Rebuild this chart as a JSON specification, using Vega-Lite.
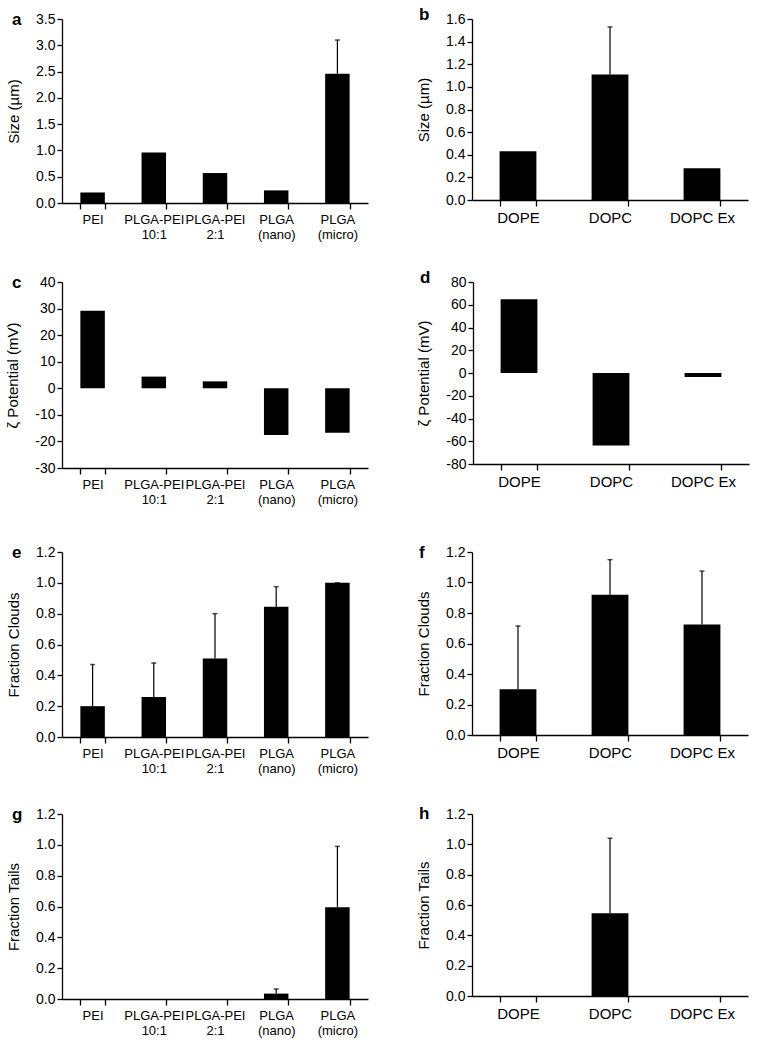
{
  "$schema": "https://vega.github.io/schema/vega-lite/v6.json",
  "background": "white",
  "padding": {"left": 5, "top": 6, "right": 5, "bottom": 2},
  "datasets": {
    "a": [
      {"group": "PEI", "value": 0.20, "hi": null},
      {"group": "PLGA-PEI 10:1", "value": 0.96, "hi": null},
      {"group": "PLGA-PEI 2:1", "value": 0.57, "hi": null},
      {"group": "PLGA (nano)", "value": 0.24, "hi": null},
      {"group": "PLGA (micro)", "value": 2.46, "hi": 3.10}
    ],
    "b": [
      {"group": "DOPE", "value": 0.43, "hi": null},
      {"group": "DOPC", "value": 1.11, "hi": 1.53},
      {"group": "DOPC Ex", "value": 0.28, "hi": null}
    ],
    "c": [
      {"group": "PEI", "value": 29.2, "hi": null},
      {"group": "PLGA-PEI 10:1", "value": 4.4, "hi": null},
      {"group": "PLGA-PEI 2:1", "value": 2.6, "hi": null},
      {"group": "PLGA (nano)", "value": -17.6, "hi": null},
      {"group": "PLGA (micro)", "value": -16.7, "hi": null}
    ],
    "d": [
      {"group": "DOPE", "value": 64.8, "hi": null},
      {"group": "DOPC", "value": -63.8, "hi": null},
      {"group": "DOPC Ex", "value": -3.5, "hi": null}
    ],
    "e": [
      {"group": "PEI", "value": 0.20, "hi": 0.47},
      {"group": "PLGA-PEI 10:1", "value": 0.26, "hi": 0.48},
      {"group": "PLGA-PEI 2:1", "value": 0.51, "hi": 0.80},
      {"group": "PLGA (nano)", "value": 0.845, "hi": 0.975},
      {"group": "PLGA (micro)", "value": 1.00, "hi": 1.00}
    ],
    "f": [
      {"group": "DOPE", "value": 0.30, "hi": 0.715},
      {"group": "DOPC", "value": 0.92, "hi": 1.15},
      {"group": "DOPC Ex", "value": 0.725, "hi": 1.075}
    ],
    "g": [
      {"group": "PEI", "value": 0, "hi": null},
      {"group": "PLGA-PEI 10:1", "value": 0, "hi": null},
      {"group": "PLGA-PEI 2:1", "value": 0, "hi": null},
      {"group": "PLGA (nano)", "value": 0.035, "hi": 0.065},
      {"group": "PLGA (micro)", "value": 0.595, "hi": 0.99}
    ],
    "h": [
      {"group": "DOPE", "value": 0, "hi": null},
      {"group": "DOPC", "value": 0.545, "hi": 1.04},
      {"group": "DOPC Ex", "value": 0, "hi": null}
    ]
  },
  "spacing": 38,
  "vconcat": [
    {
      "spacing": 28,
      "vconcat": [
        {
          "spacing": 48,
          "hconcat": [
            {"vconcat": [{
              "width": 306, "height": 184,
              "title": {"text": "a", "dx": -50, "dy": 21},
              "data": {"name": "a"},
              "encoding": {
                "x": {"field": "group", "type": "nominal", "sort": ["PEI", "PLGA-PEI 10:1", "PLGA-PEI 2:1", "PLGA (nano)", "PLGA (micro)"], "scale": {"paddingInner": 0.6, "paddingOuter": 0.3}, "axis": {"title": null, "labelExpr": "split(datum.label, ' ')"}}
              },
              "layer": [
                {"mark": {"type": "bar", "color": "black"}, "encoding": {"y": {"field": "value", "type": "quantitative", "title": "Size (µm)", "scale": {"domain": [0, 3.5], "nice": false}, "axis": {"values": [0, 0.5, 1, 1.5, 2, 2.5, 3, 3.5], "tickCount": 20, "labelOverlap": false, "format": ".1f"}}}},
                {"transform": [{"filter": "datum.hi != null"}], "mark": {"type": "rule", "color": "black", "strokeWidth": 1.2}, "encoding": {"y": {"field": "value", "type": "quantitative", "title": "Size (µm)"}, "y2": {"field": "hi"}}},
                {"transform": [{"filter": "datum.hi != null"}], "mark": {"type": "tick", "color": "black", "thickness": 1.5, "size": 5}, "encoding": {"y": {"field": "hi", "type": "quantitative", "title": "Size (µm)"}}}
              ]
            }]},
            {"vconcat": [{
              "width": 276, "height": 181,
              "title": {"text": "b", "dx": -53, "dy": 16},
              "data": {"name": "b"},
              "encoding": {
                "x": {"field": "group", "type": "nominal", "sort": ["DOPE", "DOPC", "DOPC Ex"], "scale": {"paddingInner": 0.6, "paddingOuter": 0.3}, "axis": {"title": null, "labelFontSize": 15}}
              },
              "layer": [
                {"mark": {"type": "bar", "color": "black"}, "encoding": {"y": {"field": "value", "type": "quantitative", "title": "Size (µm)", "scale": {"domain": [0, 1.6], "nice": false}, "axis": {"values": [0, 0.2, 0.4, 0.6, 0.8, 1, 1.2, 1.4, 1.6], "tickCount": 20, "labelOverlap": false, "format": ".1f"}}}},
                {"transform": [{"filter": "datum.hi != null"}], "mark": {"type": "rule", "color": "black", "strokeWidth": 1.2}, "encoding": {"y": {"field": "value", "type": "quantitative", "title": "Size (µm)"}, "y2": {"field": "hi"}}},
                {"transform": [{"filter": "datum.hi != null"}], "mark": {"type": "tick", "color": "black", "thickness": 1.5, "size": 5}, "encoding": {"y": {"field": "hi", "type": "quantitative", "title": "Size (µm)"}}}
              ]
            }]}
          ]
        },
        {
          "spacing": 48,
          "hconcat": [
            {"vconcat": [{
              "width": 306, "height": 186,
              "title": {"text": "c", "dx": -50, "dy": 21},
              "data": {"name": "c"},
              "encoding": {
                "x": {"field": "group", "type": "nominal", "sort": ["PEI", "PLGA-PEI 10:1", "PLGA-PEI 2:1", "PLGA (nano)", "PLGA (micro)"], "scale": {"paddingInner": 0.6, "paddingOuter": 0.3}, "axis": {"title": null, "labelExpr": "split(datum.label, ' ')"}}
              },
              "layer": [
                {"mark": {"type": "bar", "color": "black"}, "encoding": {"y": {"field": "value", "type": "quantitative", "title": "ζ Potential (mV)", "scale": {"domain": [-30, 40], "nice": false}, "axis": {"values": [-30, -20, -10, 0, 10, 20, 30, 40], "tickCount": 20, "labelOverlap": false, "labelExpr": "replace(datum.label, '−', '-')"}}}}
              ]
            }]},
            {"vconcat": [{
              "width": 276, "height": 182,
              "title": {"text": "d", "dx": -53, "dy": 16},
              "data": {"name": "d"},
              "encoding": {
                "x": {"field": "group", "type": "nominal", "sort": ["DOPE", "DOPC", "DOPC Ex"], "scale": {"paddingInner": 0.6, "paddingOuter": 0.3}, "axis": {"title": null, "labelFontSize": 15}}
              },
              "layer": [
                {"mark": {"type": "bar", "color": "black"}, "encoding": {"y": {"field": "value", "type": "quantitative", "title": "ζ Potential (mV)", "scale": {"domain": [-80, 80], "nice": false}, "axis": {"values": [-80, -60, -40, -20, 0, 20, 40, 60, 80], "tickCount": 20, "labelOverlap": false, "labelExpr": "replace(datum.label, '−', '-')"}}}}
              ]
            }]}
          ]
        }
      ]
    },
    {
      "spacing": 30,
      "vconcat": [
        {
          "spacing": 48,
          "hconcat": [
            {"vconcat": [{
              "width": 306, "height": 185,
              "title": {"text": "e", "dx": -50, "dy": 21},
              "data": {"name": "e"},
              "encoding": {
                "x": {"field": "group", "type": "nominal", "sort": ["PEI", "PLGA-PEI 10:1", "PLGA-PEI 2:1", "PLGA (nano)", "PLGA (micro)"], "scale": {"paddingInner": 0.6, "paddingOuter": 0.3}, "axis": {"title": null, "labelExpr": "split(datum.label, ' ')"}}
              },
              "layer": [
                {"mark": {"type": "bar", "color": "black"}, "encoding": {"y": {"field": "value", "type": "quantitative", "title": "Fraction Clouds", "scale": {"domain": [0, 1.2], "nice": false}, "axis": {"values": [0, 0.2, 0.4, 0.6, 0.8, 1, 1.2], "tickCount": 20, "labelOverlap": false, "format": ".1f"}}}},
                {"transform": [{"filter": "datum.hi != null"}], "mark": {"type": "rule", "color": "black", "strokeWidth": 1.2}, "encoding": {"y": {"field": "value", "type": "quantitative", "title": "Fraction Clouds"}, "y2": {"field": "hi"}}},
                {"transform": [{"filter": "datum.hi != null"}], "mark": {"type": "tick", "color": "black", "thickness": 1.5, "size": 5}, "encoding": {"y": {"field": "hi", "type": "quantitative", "title": "Fraction Clouds"}}}
              ]
            }]},
            {"vconcat": [{
              "width": 276, "height": 183,
              "title": {"text": "f", "dx": -53, "dy": 21},
              "data": {"name": "f"},
              "encoding": {
                "x": {"field": "group", "type": "nominal", "sort": ["DOPE", "DOPC", "DOPC Ex"], "scale": {"paddingInner": 0.6, "paddingOuter": 0.3}, "axis": {"title": null, "labelFontSize": 15}}
              },
              "layer": [
                {"mark": {"type": "bar", "color": "black"}, "encoding": {"y": {"field": "value", "type": "quantitative", "title": "Fraction Clouds", "scale": {"domain": [0, 1.2], "nice": false}, "axis": {"values": [0, 0.2, 0.4, 0.6, 0.8, 1, 1.2], "tickCount": 20, "labelOverlap": false, "format": ".1f"}}}},
                {"transform": [{"filter": "datum.hi != null"}], "mark": {"type": "rule", "color": "black", "strokeWidth": 1.2}, "encoding": {"y": {"field": "value", "type": "quantitative", "title": "Fraction Clouds"}, "y2": {"field": "hi"}}},
                {"transform": [{"filter": "datum.hi != null"}], "mark": {"type": "tick", "color": "black", "thickness": 1.5, "size": 5}, "encoding": {"y": {"field": "hi", "type": "quantitative", "title": "Fraction Clouds"}}}
              ]
            }]}
          ]
        },
        {
          "spacing": 48,
          "hconcat": [
            {"vconcat": [{
              "width": 306, "height": 185,
              "title": {"text": "g", "dx": -50, "dy": 21},
              "data": {"name": "g"},
              "encoding": {
                "x": {"field": "group", "type": "nominal", "sort": ["PEI", "PLGA-PEI 10:1", "PLGA-PEI 2:1", "PLGA (nano)", "PLGA (micro)"], "scale": {"paddingInner": 0.6, "paddingOuter": 0.3}, "axis": {"title": null, "labelExpr": "split(datum.label, ' ')"}}
              },
              "layer": [
                {"mark": {"type": "bar", "color": "black"}, "encoding": {"y": {"field": "value", "type": "quantitative", "title": "Fraction Tails", "scale": {"domain": [0, 1.2], "nice": false}, "axis": {"values": [0, 0.2, 0.4, 0.6, 0.8, 1, 1.2], "tickCount": 20, "labelOverlap": false, "format": ".1f"}}}},
                {"transform": [{"filter": "datum.hi != null"}], "mark": {"type": "rule", "color": "black", "strokeWidth": 1.2}, "encoding": {"y": {"field": "value", "type": "quantitative", "title": "Fraction Tails"}, "y2": {"field": "hi"}}},
                {"transform": [{"filter": "datum.hi != null"}], "mark": {"type": "tick", "color": "black", "thickness": 1.5, "size": 5}, "encoding": {"y": {"field": "hi", "type": "quantitative", "title": "Fraction Tails"}}}
              ]
            }]},
            {"vconcat": [{
              "width": 276, "height": 182,
              "title": {"text": "h", "dx": -53, "dy": 20},
              "data": {"name": "h"},
              "encoding": {
                "x": {"field": "group", "type": "nominal", "sort": ["DOPE", "DOPC", "DOPC Ex"], "scale": {"paddingInner": 0.6, "paddingOuter": 0.3}, "axis": {"title": null, "labelFontSize": 15}}
              },
              "layer": [
                {"mark": {"type": "bar", "color": "black"}, "encoding": {"y": {"field": "value", "type": "quantitative", "title": "Fraction Tails", "scale": {"domain": [0, 1.2], "nice": false}, "axis": {"values": [0, 0.2, 0.4, 0.6, 0.8, 1, 1.2], "tickCount": 20, "labelOverlap": false, "format": ".1f"}}}},
                {"transform": [{"filter": "datum.hi != null"}], "mark": {"type": "rule", "color": "black", "strokeWidth": 1.2}, "encoding": {"y": {"field": "value", "type": "quantitative", "title": "Fraction Tails"}, "y2": {"field": "hi"}}},
                {"transform": [{"filter": "datum.hi != null"}], "mark": {"type": "tick", "color": "black", "thickness": 1.5, "size": 5}, "encoding": {"y": {"field": "hi", "type": "quantitative", "title": "Fraction Tails"}}}
              ]
            }]}
          ]
        }
      ]
    }
  ],
  "config": {
    "font": "Liberation Sans",
    "view": {"stroke": null},
    "axis": {
      "domainColor": "black", "tickColor": "black", "labelColor": "black", "titleColor": "black",
      "labelFont": "Liberation Sans", "titleFont": "Liberation Sans",
      "labelFontSize": 13, "titleFontSize": 15, "titleFontWeight": "normal",
      "grid": false, "domainWidth": 1.3, "tickWidth": 1.3, "tickSize": 5
    },
    "axisX": {"tickBand": "extent", "labelAngle": 0, "labelPadding": 4, "labelLineHeight": 15, "labelBaseline": "top", "tickSize": 6},
    "axisY": {"labelPadding": 2, "titlePadding": 14, "labelOverlap": false, "labelFontSize": 14},
    "title": {"anchor": "start", "frame": "group", "fontSize": 17, "fontWeight": "bold", "font": "Liberation Sans", "color": "black", "offset": 0, "baseline": "alphabetic"}
  }
}
